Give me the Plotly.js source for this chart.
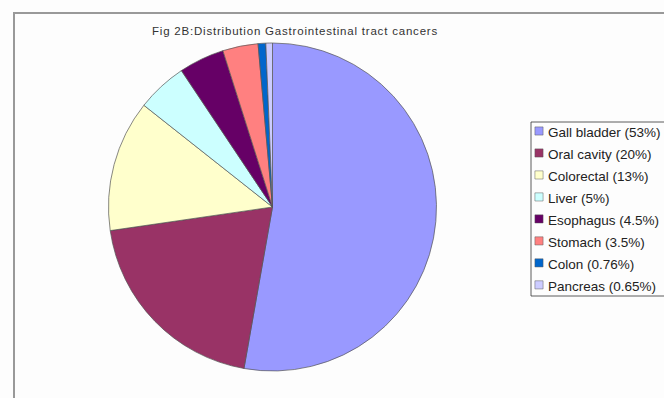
<!DOCTYPE html>
<html>
<head>
<meta charset="utf-8">
<script src="https://cdn.plot.ly/plotly-3.0.1.min.js"></script>
<style>
html,body{margin:0;padding:0;background:#fff;}
#chart{width:664px;height:398px;}
.gtitle{letter-spacing:0.8px;}
.legendtext{font-size:13.5px !important;}
.legendpie{transform:translate(31px,0px) scale(0.68);}
</style>
</head>
<body>
<div id="chart"></div>
<script>
const categories = ["Gall bladder (53%)", "Oral cavity (20%)", "Colorectal (13%)", "Liver (5%)", "Esophagus (4.5%)", "Stomach (3.5%)", "Colon (0.76%)", "Pancreas (0.65%)"];
const values = [53, 20, 13, 5, 4.5, 3.5, 0.76, 0.65];
const colors = ["#9999FF", "#993366", "#FFFFCC", "#CCFFFF", "#660066", "#FF8080", "#0066CC", "#CCCCFF"];

const data = [{
  type: "pie",
  labels: categories,
  values: values,
  sort: false,
  direction: "clockwise",
  rotation: 0,
  textinfo: "none",
  hoverinfo: "label+value",
  marker: {colors: colors, line: {color: "#555", width: 0.7}},
  domain: {x: [106/664, 439/664], y: [27/398, 355/398]}
}];

const layout = {
  width: 664, height: 398,
  margin: {l: 0, r: 0, t: 0, b: 0, autoexpand: false},
  paper_bgcolor: "#fdfdfd",
  font: {family: "Liberation Sans, Arial, sans-serif", color: "#222"},
  title: {text: "Fig 2B:Distribution Gastrointestinal tract cancers", x: 295/664, xanchor: "center", y: 1 - 31/398, yanchor: "middle", font: {size: 11.5, color: "#333"}},
  showlegend: true,
  legend: {x: 508/664, xanchor: "left", y: 1 - 115/398, yanchor: "top", bgcolor: "rgba(0,0,0,0)", borderwidth: 0, font: {size: 14.6, color: "#222"}, itemwidth: 30, tracegroupgap: 0},
  shapes: [
    {type: "rect", xref: "paper", yref: "paper", x0: 14/664, x1: 1.2, y0: -0.2, y1: 1 - 13/398, line: {color: "#999", width: 2}},
    {type: "rect", xref: "paper", yref: "paper", x0: 531/664, x1: 1.2, y0: 1 - 296/398, y1: 1 - 122/398, line: {color: "#333", width: 0.8}}
  ]
};

Plotly.newPlot("chart", data, layout, {displayModeBar: false, staticPlot: true});
</script>
</body>
</html>
